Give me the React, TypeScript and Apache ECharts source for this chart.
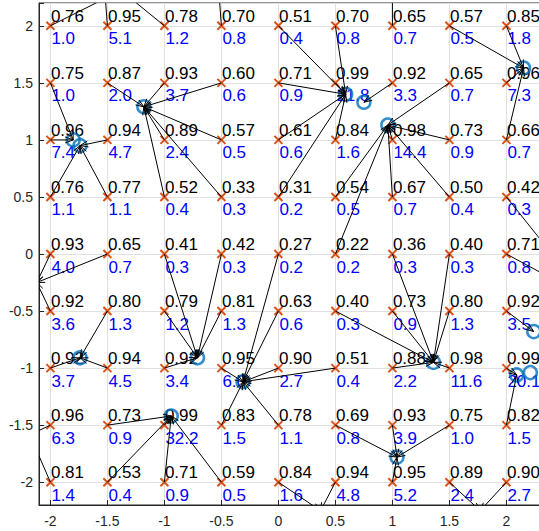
import React, { useEffect, useRef } from "react";
import * as echarts from "echarts";

// Grid of starting points
const xValues = [-2, -1.5, -1, -0.5, 0, 0.5, 1, 1.5, 2];
const yValues = [2, 1.5, 1, 0.5, 0, -0.5, -1, -1.5, -2];

// Black labels (rows from y=2 down to y=-2, columns x=-2..2)
const probRows = [
  [0.76, 0.95, 0.78, 0.70, 0.51, 0.70, 0.65, 0.57, 0.85],
  [0.75, 0.87, 0.93, 0.60, 0.71, 0.99, 0.92, 0.65, 0.96],
  [0.96, 0.94, 0.89, 0.57, 0.61, 0.84, 0.98, 0.73, 0.66],
  [0.76, 0.77, 0.52, 0.33, 0.31, 0.54, 0.67, 0.50, 0.42],
  [0.93, 0.65, 0.41, 0.42, 0.27, 0.22, 0.36, 0.40, 0.71],
  [0.92, 0.80, 0.79, 0.81, 0.63, 0.40, 0.73, 0.80, 0.92],
  [0.92, 0.94, 0.92, 0.95, 0.90, 0.51, 0.88, 0.98, 0.99],
  [0.96, 0.73, 0.99, 0.83, 0.78, 0.69, 0.93, 0.75, 0.82],
  [0.81, 0.53, 0.71, 0.59, 0.84, 0.94, 0.95, 0.89, 0.90],
];

// Blue labels
const ratioRows = [
  [1.0, 5.1, 1.2, 0.8, 0.4, 0.8, 0.7, 0.5, 1.8],
  [1.0, 2.0, 3.7, 0.6, 0.9, 21.8, 3.3, 0.7, 7.3],
  [7.4, 4.7, 2.4, 0.5, 0.6, 1.6, 14.4, 0.9, 0.7],
  [1.1, 1.1, 0.4, 0.3, 0.2, 0.5, 0.7, 0.4, 0.3],
  [4.0, 0.7, 0.3, 0.3, 0.2, 0.2, 0.3, 0.3, 0.8],
  [3.6, 1.3, 1.2, 1.3, 0.6, 0.3, 0.9, 1.3, 3.5],
  [3.7, 4.5, 3.4, 6.0, 2.7, 0.4, 2.2, 11.6, 20.1],
  [6.3, 0.9, 32.2, 1.5, 1.1, 0.8, 3.9, 1.0, 1.5],
  [1.4, 0.4, 0.9, 0.5, 1.6, 4.8, 5.2, 2.4, 2.7],
];

// Blue circles (found modes)
const modeCircles: [number, number][] = [
  [-1.18, 1.29], [-1.8, 1.0], [-1.74, 0.95], [0.59, 1.4], [0.75, 1.33],
  [0.96, 1.13], [2.15, 1.63], [2.24, -0.68], [-1.74, -0.91], [-0.71, -0.91],
  [-0.31, -1.12], [1.36, -0.95], [2.09, -1.06], [2.21, -1.04], [-0.94, -1.42],
  [1.04, -1.78],
];

// Arrow end points that lie outside the visible plot
const offPlotEnds: [number, number][] = [
  [-1.2, 2.4], [-1.53, 2.4], [-1.49, 2.4], [-0.53, 2.4], [1.0, 2.4],
  [-2.12, -0.25], [2.4, 0.0], [2.5, -0.27], [-2.3, -1.64], [-2.2, -1.54],
  [0.37, -2.25], [1.77, -2.25],
];

// Index of each start point's arrow end (0..15 circles, 16.. off-plot)
const targetRows = [
  [16, 17, 18, 19, 3, 3, 20, 6, 6],
  [1, 0, 0, 0, 3, 3, 4, 5, 6],
  [1, 2, 0, 0, 3, 3, 5, 5, 6],
  [2, 2, 0, 0, 3, 5, 5, 5, 22],
  [21, 21, 9, 9, 10, 5, 11, 11, 23],
  [21, 8, 9, 9, 10, 11, 11, 11, 7],
  [8, 8, 9, 10, 10, 10, 11, 11, 12],
  [24, 14, 14, 10, 10, 15, 15, 15, 12],
  [25, 14, 14, 14, 26, 26, 15, 27, 27],
];

const FONT = "'Liberation Sans', Arial, Helvetica, sans-serif";

export default function App() {
  const ref = useRef<HTMLDivElement>(null);

  useEffect(() => {
    if (!ref.current) return;
    const chart = echarts.init(ref.current, undefined, { renderer: "svg" });
    const ends = [...modeCircles, ...offPlotEnds];

    const pointData: number[][] = [];
    const probText: string[] = [];
    const ratioText: string[] = [];
    const arrowData: number[][] = [];
    yValues.forEach((y, r) => {
      xValues.forEach((x, c) => {
        pointData.push([x, y]);
        probText.push(probRows[r][c].toFixed(2));
        ratioText.push(ratioRows[r][c].toFixed(1));
        const e = ends[targetRows[r][c]];
        arrowData.push([x, y, e[0], e[1]]);
      });
    });

    const tickFmt = (v: number) =>
      Math.abs(v * 2 - Math.round(v * 2)) < 1e-6 ? String(Math.round(v * 10) / 10) : "";

    chart.setOption({
      animation: false,
      backgroundColor: "#ffffff",
      grid: {
        left: 39,
        top: 3,
        width: 513,
        height: 502,
        show: true,
        borderColor: "#262626",
        borderWidth: 1,
        containLabel: false,
        outerBoundsMode: "none",
      },
      xAxis: {
        type: "value",
        min: -2.1,
        max: 2.4,
        splitNumber: 9,
        axisLine: { show: true, onZero: false, lineStyle: { color: "#262626", width: 1 } },
        axisTick: { show: true, inside: true, length: 5, lineStyle: { color: "#262626" } },
        axisLabel: { color: "#262626", fontSize: 14, fontFamily: FONT, margin: 9, formatter: tickFmt },
        splitLine: { show: true, lineStyle: { color: "#e0e0e0", width: 1 } },
      },
      yAxis: {
        type: "value",
        min: -2.2,
        max: 2.2,
        splitNumber: 9,
        axisLine: { show: true, onZero: false, lineStyle: { color: "#262626", width: 1 } },
        axisTick: { show: true, inside: true, length: 5, lineStyle: { color: "#262626" } },
        axisLabel: { color: "#262626", fontSize: 14, fontFamily: FONT, margin: 6, formatter: tickFmt },
        splitLine: { show: true, lineStyle: { color: "#e0e0e0", width: 1 } },
      },
      series: [
        {
          type: "custom",
          name: "markers",
          z: 2,
          clip: true,
          data: pointData,
          renderItem: (params: any, api: any) => {
            const p = api.coord([api.value(0), api.value(1)]);
            const s = 4;
            const st = { stroke: "#D95319", lineWidth: 2 };
            return {
              type: "group",
              children: [
                { type: "line", shape: { x1: p[0] - s, y1: p[1] - s, x2: p[0] + s, y2: p[1] + s }, style: st },
                { type: "line", shape: { x1: p[0] - s, y1: p[1] + s, x2: p[0] + s, y2: p[1] - s }, style: st },
              ],
            };
          },
        },
        {
          type: "custom",
          name: "labels",
          z: 3,
          data: pointData,
          renderItem: (params: any, api: any) => {
            const p = api.coord([api.value(0), api.value(1)]);
            const i = params.dataIndex;
            return {
              type: "group",
              children: [
                {
                  type: "text",
                  style: {
                    x: p[0] + 0.5,
                    y: p[1] - 9.5,
                    text: probText[i],
                    fill: "#000000",
                    fontSize: 17,
                    fontFamily: FONT,
                    align: "left",
                    verticalAlign: "middle",
                  },
                },
                {
                  type: "text",
                  style: {
                    x: p[0] + 1,
                    y: p[1] + 13,
                    text: ratioText[i],
                    fill: "#0000FF",
                    fontSize: 17,
                    fontFamily: FONT,
                    align: "left",
                    verticalAlign: "middle",
                  },
                },
              ],
            };
          },
        },
        {
          type: "scatter",
          name: "modes",
          z: 4,
          symbol: "circle",
          symbolSize: 13,
          itemStyle: { color: "rgba(0,0,0,0)", borderColor: "#0072BD", borderWidth: 2.5 },
          data: modeCircles,
        },
        {
          type: "custom",
          name: "arrows",
          z: 5,
          clip: true,
          data: arrowData,
          renderItem: (params: any, api: any) => {
            const p0 = api.coord([api.value(0), api.value(1)]);
            const p1 = api.coord([api.value(2), api.value(3)]);
            const dx = p1[0] - p0[0];
            const dy = p1[1] - p0[1];
            const len = Math.hypot(dx, dy) || 1;
            const ux = dx / len;
            const uy = dy / len;
            const h = 8;
            const w = 3;
            const bx = p1[0] - ux * h;
            const by = p1[1] - uy * h;
            const st = { stroke: "#000000", lineWidth: 1, fill: null };
            return {
              type: "group",
              children: [
                { type: "line", shape: { x1: p0[0], y1: p0[1], x2: p1[0], y2: p1[1] }, style: st },
                {
                  type: "polyline",
                  shape: { points: [[bx - uy * w, by + ux * w], [p1[0], p1[1]], [bx + uy * w, by - ux * w]] },
                  style: st,
                },
              ],
            };
          },
        },
      ],
    });

    return () => chart.dispose();
  }, []);

  return (
    <div
      ref={ref}
      style={{ position: "fixed", left: 0, top: 0, width: 539, height: 531, background: "#ffffff" }}
    />
  );
}
